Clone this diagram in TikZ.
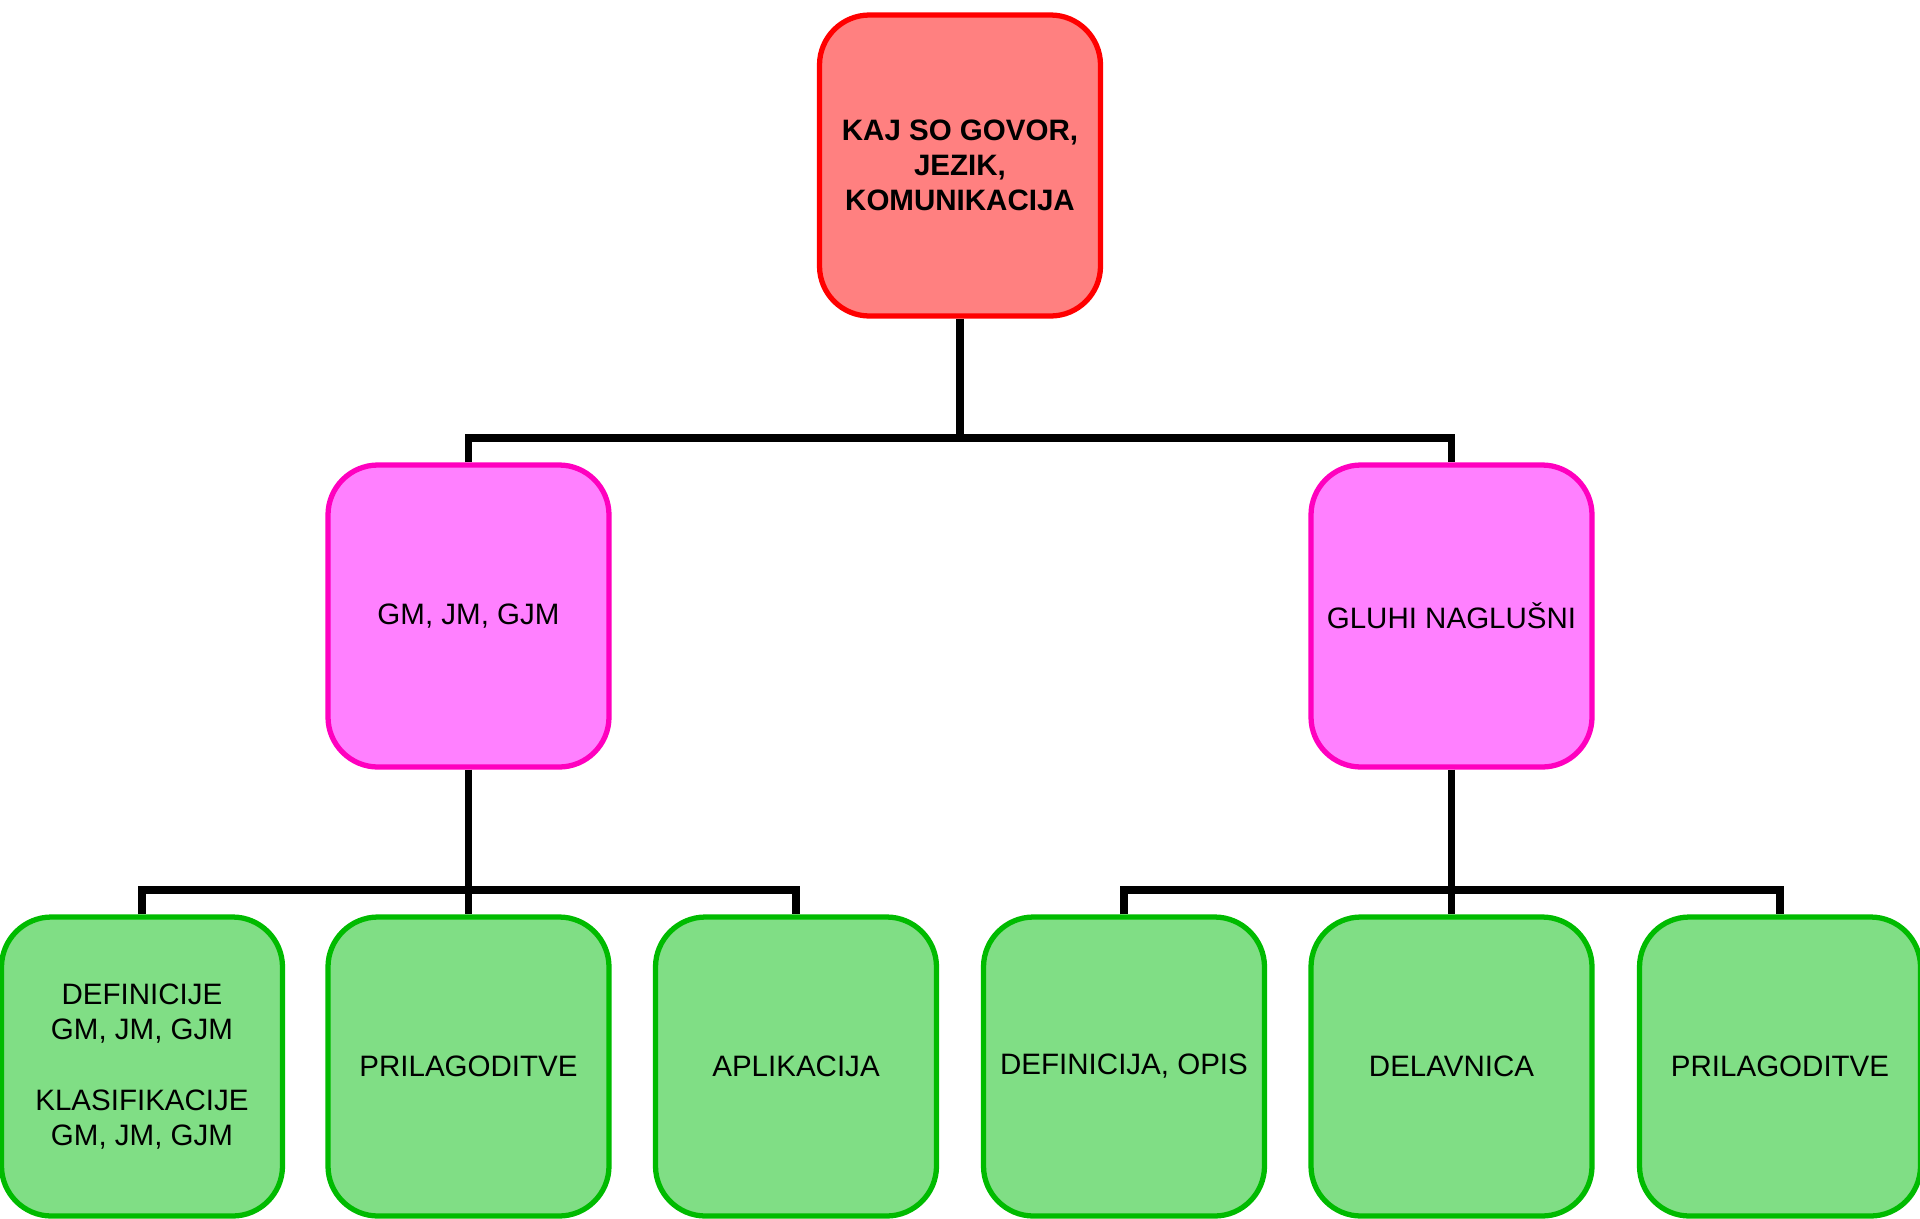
\documentclass[tikz,border=0pt]{standalone}
\usepackage{fontspec}
\setmainfont{Liberation Sans}
\definecolor{rootfill}{RGB}{255,128,128}
\definecolor{rootline}{RGB}{255,0,0}
\definecolor{midfill}{RGB}{255,128,255}
\definecolor{midline}{RGB}{255,0,191}
\definecolor{leaffill}{RGB}{128,222,133}
\definecolor{leafline}{RGB}{0,187,0}
\tikzset{
  box/.style={draw,rounded corners=0.5cm,line width=1.5pt,minimum width=2.81cm,
    minimum height=3.0cm,inner sep=0pt,align=center,font=\fontsize{8.4}{10}\selectfont},
  rootbox/.style={box,draw=rootline,fill=rootfill,minimum height=3.01cm,
    font=\fontsize{8.4}{9.9}\selectfont\bfseries},
  midbox/.style={box,draw=midline,fill=midfill,minimum height=3.02cm},
  leafbox/.style={box,draw=leafline,fill=leaffill,minimum height=2.99cm},
  conn/.style={line width=2.2pt,black}
}
\begin{document}
\begin{tikzpicture}
    \useasboundingbox (0,0) rectangle (19.2,-12.18);

    \node[rootbox] (root) at (9.6,-1.655) {KAJ SO GOVOR,\\ JEZIK,\\ KOMUNIKACIJA};

    \node[midbox] (gm) at (4.685,-6.16) {GM, JM, GJM};
    \node[midbox] (gluhi) at (14.515,-6.16) {GLUHI NAGLUŠNI};

    \node[leafbox] (definicije) at (1.42,-10.665) {DEFINICIJE\\ GM, JM, GJM\\[10pt] KLASIFIKACIJE\\ GM, JM, GJM};
    \node[leafbox] (prilagoditveA) at (4.685,-10.665) {PRILAGODITVE};
    \node[leafbox] (aplikacija) at (7.96,-10.665) {APLIKACIJA};
    \node[leafbox] (opis) at (11.24,-10.665) {DEFINICIJA, OPIS};
    \node[leafbox] (delavnica) at (14.515,-10.665) {DELAVNICA};
    \node[leafbox] (prilagoditveB) at (17.8,-10.665) {PRILAGODITVE};

    \coordinate (topbus) at (9.6,-4.38);
    \coordinate (leftbus) at (4.685,-8.9);
    \coordinate (rightbus) at (14.515,-8.9);

    \draw[conn] (root.south) -- (topbus);
    \draw[conn] (gm.north) |- (topbus) -| (gluhi.north);

    \draw[conn] (gm.south) -- (prilagoditveA.north);
    \draw[conn] (definicije.north) |- (leftbus) -| (aplikacija.north);

    \draw[conn] (gluhi.south) -- (delavnica.north);
    \draw[conn] (opis.north) |- (rightbus) -| (prilagoditveB.north);
\end{tikzpicture}
\end{document}
